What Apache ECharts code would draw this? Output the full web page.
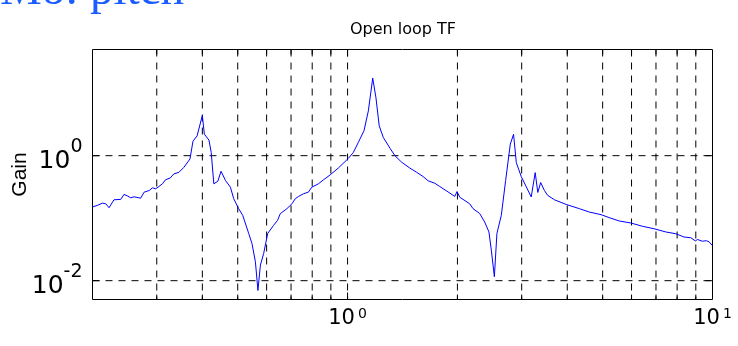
<!DOCTYPE html>
<html>
<head>
<meta charset="utf-8">
<title>Open loop TF</title>
<script src="https://cdn.jsdelivr.net/npm/echarts@6/dist/echarts.min.js"></script>
<style>
  html, body { margin: 0; padding: 0; background: #fff; }
  #chart { width: 738px; height: 346px; }
</style>
</head>
<body>
<div id="chart"></div>
<script>
// Frequency samples and open-loop gain magnitude
const freq = [0.2, 0.206, 0.213, 0.2175, 0.222, 0.229, 0.239, 0.244, 0.249, 0.2545,
  0.26, 0.271, 0.277, 0.286, 0.292, 0.298, 0.304, 0.311, 0.317, 0.327,
  0.334, 0.345, 0.356, 0.37, 0.377, 0.387, 0.4, 0.405, 0.417, 0.423,
  0.43, 0.441, 0.45, 0.463, 0.4775, 0.4875, 0.503, 0.516, 0.536, 0.547,
  0.559, 0.568, 0.577, 0.589, 0.604, 0.627, 0.643, 0.654, 0.682, 0.704,
  0.719, 0.734, 0.757, 0.781, 0.798, 0.832, 0.859, 0.896, 0.944, 1.005,
  1.037, 1.07, 1.109, 1.14, 1.172, 1.196, 1.221, 1.253, 1.307, 1.348,
  1.406, 1.482, 1.546, 1.611, 1.663, 1.734, 1.789, 1.866, 1.967, 1.995,
  2.029, 2.161, 2.207, 2.301, 2.375, 2.44, 2.477, 2.525, 2.566, 2.638,
  2.711, 2.792, 2.85, 2.9, 2.992, 3.186, 3.267, 3.321, 3.382, 3.463,
  3.536, 3.689, 3.972, 4.317, 4.598, 4.949, 5.214, 5.553, 5.977, 6.43,
  6.921, 7.449, 7.935, 8.358, 8.718, 8.974, 9.1, 9.378, 9.618, 9.781, 10];
const gain = [0.1515, 0.16, 0.174, 0.17, 0.147, 0.197, 0.2, 0.24, 0.228, 0.212,
  0.22, 0.209, 0.261, 0.277, 0.306, 0.295, 0.321, 0.355, 0.411, 0.442,
  0.511, 0.542, 0.651, 0.886, 1.701, 2.081, 4.41, 2.214, 1.777, 1.128,
  0.355, 0.39, 0.563, 0.4, 0.313, 0.205, 0.142, 0.111, 0.0568, 0.0394,
  0.0201, 0.00698, 0.0178, 0.0273, 0.0568, 0.0769, 0.0924, 0.118, 0.142, 0.17,
  0.205, 0.223, 0.246, 0.261, 0.313, 0.355, 0.411, 0.493, 0.637, 0.906,
  1.128, 1.627, 2.499, 5.2, 17.42, 8.464, 3.001, 1.955, 1.316, 1.0,
  0.788, 0.633, 0.542, 0.463, 0.396, 0.3625, 0.321, 0.274, 0.223, 0.267,
  0.217, 0.17, 0.142, 0.119, 0.0869, 0.0602, 0.0308, 0.01158, 0.0568, 0.111,
  0.4, 1.535, 2.198, 0.774, 0.463, 0.219, 0.536, 0.258, 0.372, 0.277,
  0.231, 0.197, 0.166, 0.142, 0.1253, 0.1139, 0.102, 0.0901, 0.0837, 0.0742,
  0.0677, 0.0602, 0.0564, 0.0499, 0.0487, 0.0433, 0.0456, 0.0428, 0.0436, 0.042, 0.0363];

// Axis ranges
const xRange = [0.2, 10];
const yRange = [0.005, 50];

// Labelled decades: value and exponent text
const xTickValues = [1, 10];
const xTickExponents = ['0', '1'];
const yTickValues = [0.01, 1];
const yTickExponents = ['-2', '0'];

// Grid line positions (major + minor on x, labelled decades on y)
const xGridValues = [0.3, 0.4, 0.5, 0.6, 0.7, 0.8, 0.9, 1, 2, 3, 4, 5, 6, 7, 8, 9];
const yGridValues = [0.01, 1];

const FONT = '"DejaVu Sans", Verdana, sans-serif';
const NAME_FONT = '"Liberation Sans", Arial, Helvetica, sans-serif';
const DASH = [7, 6];

function decadeLabel(values, exps, v) {
  const i = values.findIndex(t => Math.abs(Math.log10(t) - Math.log10(v)) < 1e-6);
  return i < 0 ? '' : '{b|10}{s|' + exps[i] + '}';
}

const chart = echarts.init(document.getElementById('chart'), null, { renderer: 'canvas' });

chart.setOption({
  animation: false,
  backgroundColor: '#fff',
  grid: {
    left: 92.5, top: 49.5, width: 620, height: 250,
    containLabel: false, outerBoundsMode: 'none',
    show: true, borderColor: '#000', borderWidth: 1, backgroundColor: 'transparent'
  },
  graphic: [
    {
      type: 'text', x: 0, y: -8, silent: true,
      style: {
        text: 'Mo: pitch', fill: '#1a5cff',
        font: '47px "Liberation Serif", "Times New Roman", serif',
        align: 'left', verticalAlign: 'middle'
      }
    },
    {
      type: 'text', x: 403, y: 30, silent: true,
      style: {
        text: 'Open loop TF', fill: '#000',
        font: '16px ' + FONT, align: 'center', verticalAlign: 'middle'
      }
    }
  ],
  xAxis: {
    type: 'log', logBase: 10, min: xRange[0], max: xRange[1],
    axisLine: { show: false },
    axisTick: { show: false },
    splitLine: { show: false },
    axisLabel: {
      margin: 8,
      formatter: v => decadeLabel(xTickValues, xTickExponents, v),
      rich: {
        b: { fontFamily: FONT, fontSize: 21, color: '#000', lineHeight: 22 },
        s: { fontFamily: FONT, fontSize: 14, color: '#000', lineHeight: 14, verticalAlign: 'top', padding: [0, 0, 0, 3] }
      }
    }
  },
  yAxis: {
    type: 'log', logBase: 10, min: yRange[0], max: yRange[1],
    name: 'Gain', nameLocation: 'middle', nameGap: 62, nameRotate: 90,
    nameMoveOverlap: false,
    nameTextStyle: { fontFamily: NAME_FONT, fontSize: 21, color: '#000' },
    axisLine: { show: false },
    axisTick: { show: false },
    splitLine: { show: false },
    axisLabel: {
      margin: 10,
      formatter: v => decadeLabel(yTickValues, yTickExponents, v),
      rich: {
        b: { fontFamily: FONT, fontSize: 25, color: '#000', lineHeight: 36, verticalAlign: 'bottom' },
        s: { fontFamily: FONT, fontSize: 19, color: '#000', lineHeight: 16, verticalAlign: 'top' }
      }
    }
  },
  series: [
    {
      // vertical grid lines with inward ticks on top and bottom edges
      type: 'custom', silent: true, z: 1,
      data: xGridValues.map(v => [v, 1]),
      renderItem: (params, api) => {
        const v = api.value(0);
        const top = api.coord([v, yRange[1]]);
        const bot = api.coord([v, yRange[0]]);
        const len = xTickValues.includes(v) ? 7 : 5;
        return {
          type: 'group',
          children: [
            { type: 'line', shape: { x1: top[0], y1: top[1], x2: bot[0], y2: bot[1] },
              style: { stroke: '#000', lineWidth: 1, lineDash: DASH } },
            { type: 'line', shape: { x1: bot[0], y1: bot[1], x2: bot[0], y2: bot[1] - len },
              style: { stroke: '#000', lineWidth: 1 } },
            { type: 'line', shape: { x1: top[0], y1: top[1], x2: top[0], y2: top[1] + len },
              style: { stroke: '#000', lineWidth: 1 } }
          ]
        };
      }
    },
    {
      // horizontal grid lines with inward ticks on left and right edges
      type: 'custom', silent: true, z: 1,
      data: yGridValues.map(v => [1, v]),
      renderItem: (params, api) => {
        const v = api.value(1);
        const l = api.coord([xRange[0], v]);
        const r = api.coord([xRange[1], v]);
        return {
          type: 'group',
          children: [
            { type: 'line', shape: { x1: l[0], y1: l[1], x2: r[0], y2: r[1] },
              style: { stroke: '#000', lineWidth: 1, lineDash: DASH } },
            { type: 'line', shape: { x1: l[0], y1: l[1], x2: l[0] + 7, y2: l[1] },
              style: { stroke: '#000', lineWidth: 1 } },
            { type: 'line', shape: { x1: r[0], y1: r[1], x2: r[0] - 7, y2: r[1] },
              style: { stroke: '#000', lineWidth: 1 } }
          ]
        };
      }
    },
    {
      type: 'line', z: 3,
      data: freq.map((f, i) => [f, gain[i]]),
      showSymbol: false, symbol: 'none',
      lineStyle: { color: '#0000ff', width: 1 },
      emphasis: { disabled: true }
    }
  ]
});
</script>
</body>
</html>
